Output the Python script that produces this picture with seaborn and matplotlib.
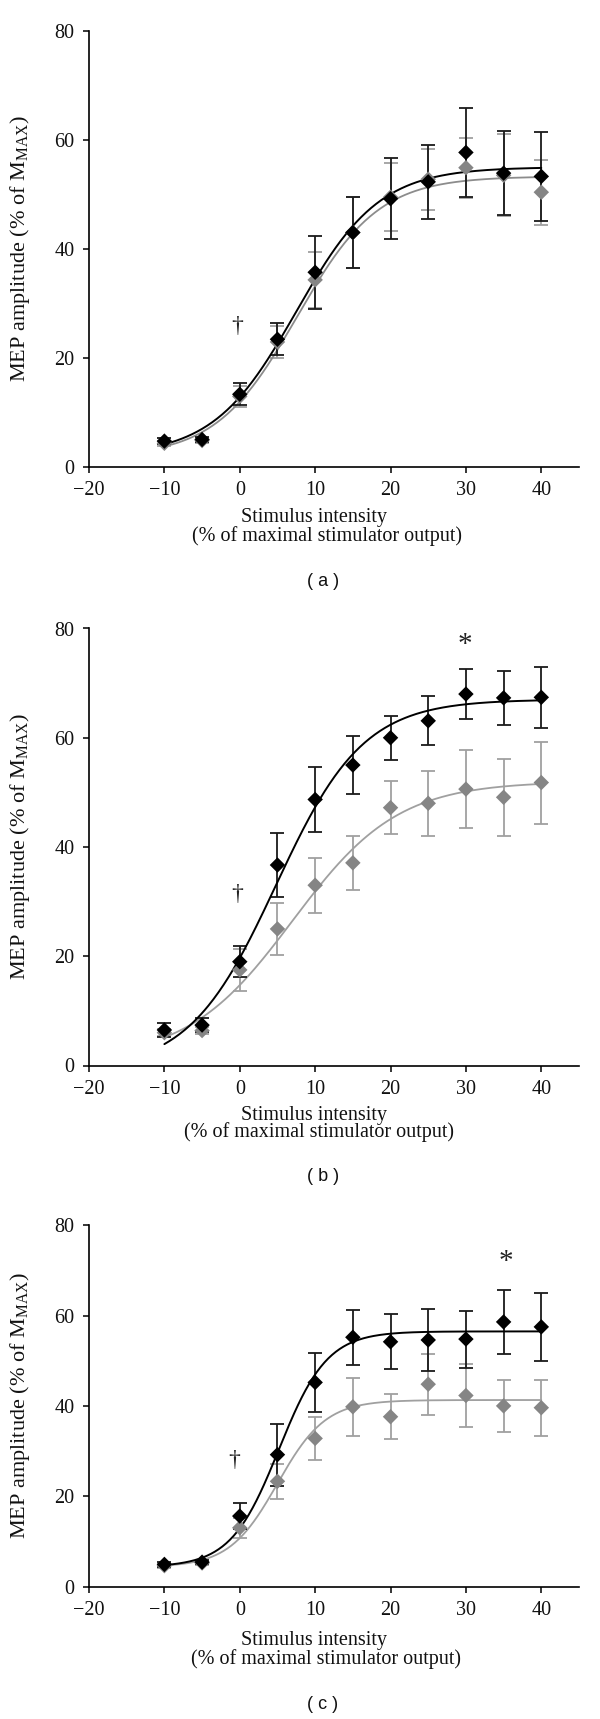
import numpy as np
import pandas as pd
import matplotlib
matplotlib.use("Agg")
import matplotlib.pyplot as plt
import seaborn as sns

# ---------------- data ----------------
intensity = [-10, -5, 0, 5, 10, 15, 20, 25, 30, 35, 40]
xticks = [-20, -10, 0, 10, 20, 30, 40]
yticks = [0, 20, 40, 60, 80]
panel_labels = ["( a )", "( b )", "( c )"]

a_black = [4.7, 5.0, 13.3, 23.4, 35.7, 43.0, 49.2, 52.3, 57.7, 53.9, 53.3]
a_black_err = [0.5, 0.5, 2.0, 2.9, 6.7, 6.6, 7.4, 6.8, 8.2, 7.7, 8.1]
a_gray = [4.3, 4.8, 12.9, 22.9, 34.3, 43.0, 49.5, 52.8, 54.9, 53.5, 50.4]
a_gray_err = [0.5, 0.5, 2.0, 3.0, 5.2, 6.5, 6.3, 5.6, 5.5, 7.5, 6.0]

b_black = [6.5, 7.4, 19.0, 36.7, 48.7, 55.0, 60.0, 63.1, 68.0, 67.3, 67.4]
b_black_err = [1.2, 1.3, 2.8, 5.8, 6.0, 5.3, 4.0, 4.5, 4.5, 4.9, 5.6]
b_gray = [6.0, 6.4, 17.5, 25.0, 33.0, 37.1, 47.2, 48.0, 50.6, 49.1, 51.8]
b_gray_err = [0.6, 0.6, 3.8, 4.7, 5.0, 5.0, 4.8, 5.9, 7.2, 7.1, 7.5]

c_black = [4.9, 5.4, 15.6, 29.2, 45.2, 55.2, 54.2, 54.6, 54.8, 58.6, 57.5]
c_black_err = [0.5, 0.5, 2.8, 6.9, 6.6, 6.1, 6.1, 6.9, 6.3, 7.0, 7.5]
c_gray = [4.6, 5.2, 13.0, 23.3, 32.8, 39.8, 37.6, 44.8, 42.3, 40.0, 39.6]
c_gray_err = [0.4, 0.4, 2.2, 3.9, 4.8, 6.4, 5.0, 6.8, 7.0, 5.7, 6.2]

# Boltzmann fit parameters (bottom, top, midpoint, slope)
a_black_fit = (2.0, 55.0, 7.5, 5.5)
a_gray_fit = (1.8, 53.3, 7.6, 5.4)
b_black_fit = (-1.0, 67.0, 4.8, 5.8)
b_gray_fit = (1.0, 52.0, 7.0, 7.0)
c_black_fit = (4.3, 56.5, 5.2, 3.2)
c_gray_fit = (4.3, 41.3, 5.0, 3.2)

# annotations: (symbol, x, y)
a_marks = [("\u2020", -0.4, 25.7)]
b_marks = [("\u2020", -0.4, 31.3), ("*", 29.9, 77.0)]
c_marks = [("\u2020", -0.7, 27.8), ("*", 35.3, 71.8)]

# ---------------- style ----------------
sns.set_theme(style="ticks")
plt.rcParams["font.family"] = ["Liberation Serif", "DejaVu Serif"]
plt.rcParams["mathtext.fontset"] = "custom"
plt.rcParams["mathtext.rm"] = "Liberation Serif"
plt.rcParams["mathtext.it"] = "Liberation Serif:italic"

BLACK = "#000000"
GRAY_MK = "#858585"
GRAY_LN = "#a0a0a0"
BAR_BLACK = "#1a1a1a"

W, H = 600, 1719
fig = plt.figure(figsize=(W / 100, H / 100), dpi=100)

# pixel boxes: (top_px, bottom_px)
boxes = [(31, 466.7), (628.5, 1065.5), (1225.3, 1586.5)]
left_px, right_px = 89, 579

panels = [
    (a_black, a_black_err, a_gray, a_gray_err, a_black_fit, a_gray_fit, a_marks),
    (b_black, b_black_err, b_gray, b_gray_err, b_black_fit, b_gray_fit, b_marks),
    (c_black, c_black_err, c_gray, c_gray_err, c_black_fit, c_gray_fit, c_marks),
]
xlabel_offsets = [(50.8, 69.3, 314, 327), (50.2, 66.3, 314, 319), (53.5, 72.1, 314, 326)]
plabel_y = [581.7, 1176, 1704]


def boltzmann(x, p):
    a1, a2, x0, dx = p
    return a2 + (a1 - a2) / (1.0 + np.exp((x - x0) / dx))


for i, (bk, bke, gy, gye, bfit, gfit, marks) in enumerate(panels):
    top, bot = boxes[i]
    ax = fig.add_axes([left_px / W, 1 - bot / H, (right_px - left_px) / W, (bot - top) / H])

    xs = np.linspace(intensity[0], intensity[-1], 300)
    df_curve = pd.DataFrame({"x": np.concatenate([xs, xs]),
                             "y": np.concatenate([boltzmann(xs, gfit), boltzmann(xs, bfit)]),
                             "grp": ["g"] * len(xs) + ["b"] * len(xs)})
    # gray series
    ax.errorbar(intensity, gy, yerr=gye, fmt="none", ecolor=GRAY_LN, elinewidth=1.3,
                capsize=4.8, capthick=1.3, zorder=2)
    sns.lineplot(data=df_curve[df_curve.grp == "g"], x="x", y="y", ax=ax,
                 color=GRAY_LN if i > 0 else "#8c8c8c", lw=1.3, zorder=3)
    # black series
    ax.errorbar(intensity, bk, yerr=bke, fmt="none", ecolor=BAR_BLACK, elinewidth=1.3,
                capsize=4.8, capthick=1.3, zorder=4)
    sns.lineplot(data=df_curve[df_curve.grp == "b"], x="x", y="y", ax=ax,
                 color=BLACK, lw=1.4, zorder=5)
    sns.scatterplot(x=intensity, y=gy, ax=ax, marker="D", s=62, color=GRAY_MK,
                    edgecolor="none", linewidth=0, zorder=6)
    sns.scatterplot(x=intensity, y=bk, ax=ax, marker="D", s=62, color=BLACK,
                    edgecolor="none", linewidth=0, zorder=7)

    for sym, sx, sy in marks:
        fs = 17 if sym == "\u2020" else 21
        ax.text(sx, sy, sym, ha="center", va="center", fontsize=fs, color="#222222")

    ax.set_xlim(-20, 45)
    ax.set_ylim(0, 80)
    ax.set_xticks(xticks)
    ax.set_yticks(yticks)
    ax.set_xticklabels([f"\u2212{abs(t)}" if t < 0 else str(t) for t in xticks])
    ax.tick_params(axis="both", labelsize=14.5, length=4.5, width=1.1, color="black",
                   labelcolor="#111111", direction="out")
    ax.tick_params(axis="y", pad=6)
    ax.tick_params(axis="x", pad=6)
    for side in ["top", "right"]:
        ax.spines[side].set_visible(False)
    for side in ["left", "bottom"]:
        ax.spines[side].set_color("black")
        ax.spines[side].set_linewidth(1.2)
    ax.set_xlabel("")
    ax.set_ylabel("MEP amplitude (% of M$_{\\mathrm{MAX}}$)", fontsize=16, color="#111111")
    ax.yaxis.set_label_coords((32.5 - left_px) / (right_px - left_px), 0.5)
    ax.grid(False)
    if ax.get_legend():
        ax.get_legend().remove()

    l1, l2, c1, c2 = xlabel_offsets[i]
    fig.text(c1 / W, 1 - (bot + l1) / H, "Stimulus intensity", ha="center", va="center",
             fontsize=14.5, color="#111111")
    fig.text(c2 / W, 1 - (bot + l2) / H, "(% of maximal stimulator output)", ha="center",
             va="center", fontsize=14.5, color="#111111")
    fig.text(323 / W, 1 - plabel_y[i] / H, panel_labels[i], ha="center", va="center",
             fontsize=13, family=["Liberation Sans", "DejaVu Sans"], color="#111111")

fig.savefig("out.png", dpi=100, facecolor="white")
